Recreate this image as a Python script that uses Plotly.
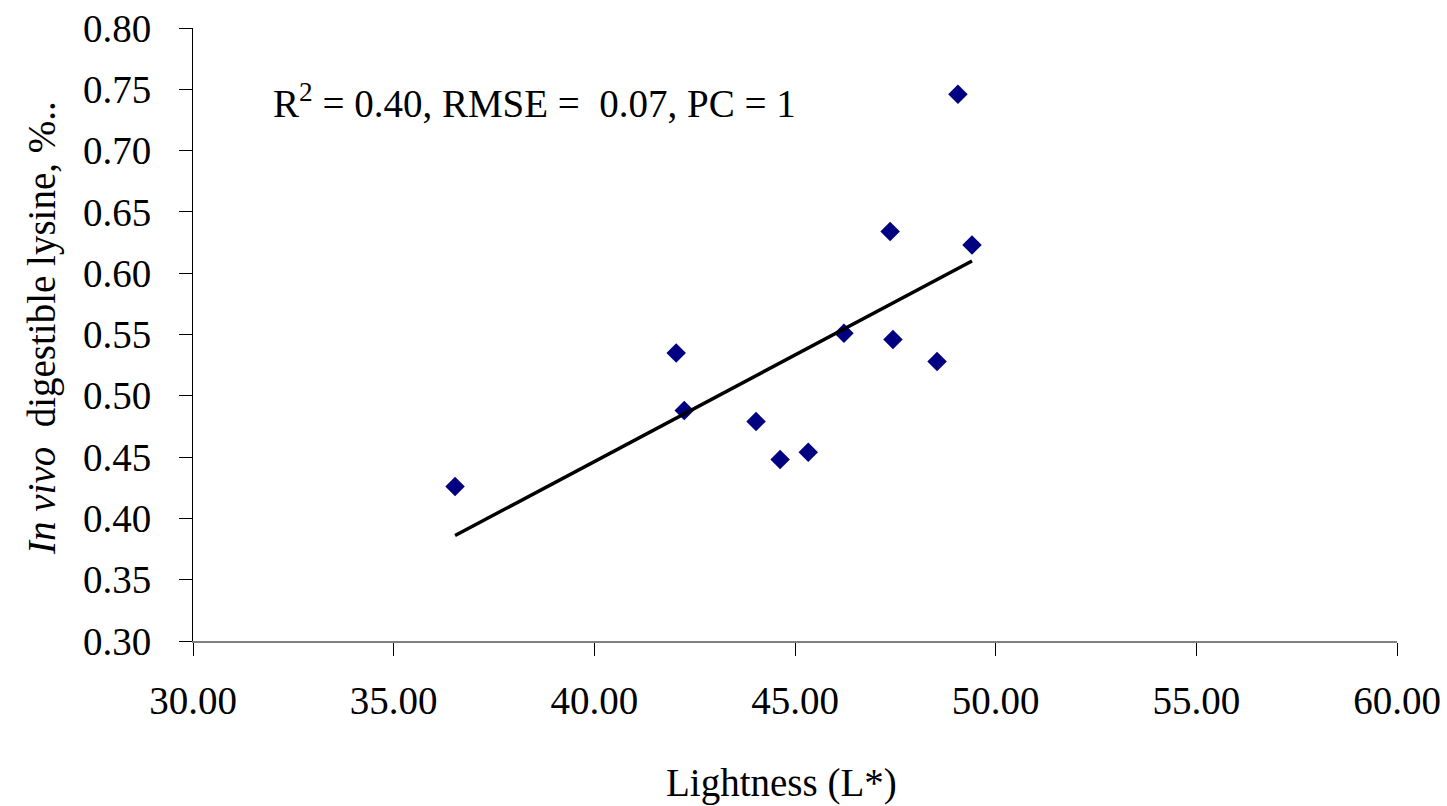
import plotly.graph_objects as go

lightness = [36.53, 42.04, 42.24, 44.03, 44.63, 45.33, 46.22, 47.37, 47.44, 48.54, 49.06, 49.41]
lysine = [0.426, 0.535, 0.488, 0.479, 0.448, 0.454, 0.551, 0.634, 0.546, 0.528, 0.746, 0.623]
fit_x = [36.53, 49.41]
fit_y = [0.386, 0.610]
x_ticks = [30, 35, 40, 45, 50, 55, 60]
y_ticks = [0.30, 0.35, 0.40, 0.45, 0.50, 0.55, 0.60, 0.65, 0.70, 0.75, 0.80]

FONT = "Liberation Serif, Times New Roman, serif"

fig = go.Figure()
fig.add_trace(go.Scatter(x=lightness, y=lysine, mode="markers",
                         marker=dict(symbol="diamond", size=15, color="#000080"),
                         showlegend=False))
fig.add_trace(go.Scatter(x=fit_x, y=fit_y, mode="lines",
                         line=dict(color="black", width=3.5), showlegend=False))

fig.update_layout(
    width=1447, height=806,
    margin=dict(l=193, r=50, t=28, b=165, autoexpand=False),
    paper_bgcolor="white", plot_bgcolor="white",
    font=dict(family=FONT, size=39, color="black"),
    xaxis=dict(range=[30, 60], tickvals=x_ticks,
               ticktext=[f"{v:.2f}" for v in x_ticks],
               showline=True, linecolor="#808080", linewidth=1.5,
               ticks="outside", ticklen=13, tickcolor="black", tickwidth=1,
               showgrid=False, zeroline=False, ticklabelstandoff=11,
               ticklabeloverflow="allow", automargin=False),
    yaxis=dict(range=[0.30, 0.80], tickvals=y_ticks,
               ticktext=[f"{v:.2f}" for v in y_ticks],
               showline=True, linecolor="black", linewidth=1,
               ticks="outside", ticklen=13, tickcolor="black", tickwidth=1,
               showgrid=False, zeroline=False, ticklabelstandoff=20,
               ticklabeloverflow="allow", automargin=False),
    annotations=[
        dict(text="R<sup>2</sup> = 0.40, RMSE = &nbsp;0.07, PC = 1",
             xref="paper", yref="paper", x=(271 - 193) / 1204, y=(641 - 101) / 613,
             xanchor="left", yanchor="middle", showarrow=False,
             font=dict(family=FONT, size=39)),
        dict(text="<i>In vivo</i>  digestible lysine, %..",
             xref="paper", yref="paper", x=(42 - 193) / 1204, y=(641 - 328) / 613,
             xanchor="center", yanchor="middle", textangle=-90, showarrow=False,
             font=dict(family=FONT, size=39)),
        dict(text="Lightness (L*)",
             xref="paper", yref="paper", x=(781 - 193) / 1204, y=-(783 - 641) / 613,
             xanchor="center", yanchor="middle", showarrow=False,
             font=dict(family=FONT, size=39)),
    ],
)

fig.write_html("out.html", config={"displayModeBar": False},
               post_script="document.body.style.margin='0';document.body.style.overflow='hidden';")
